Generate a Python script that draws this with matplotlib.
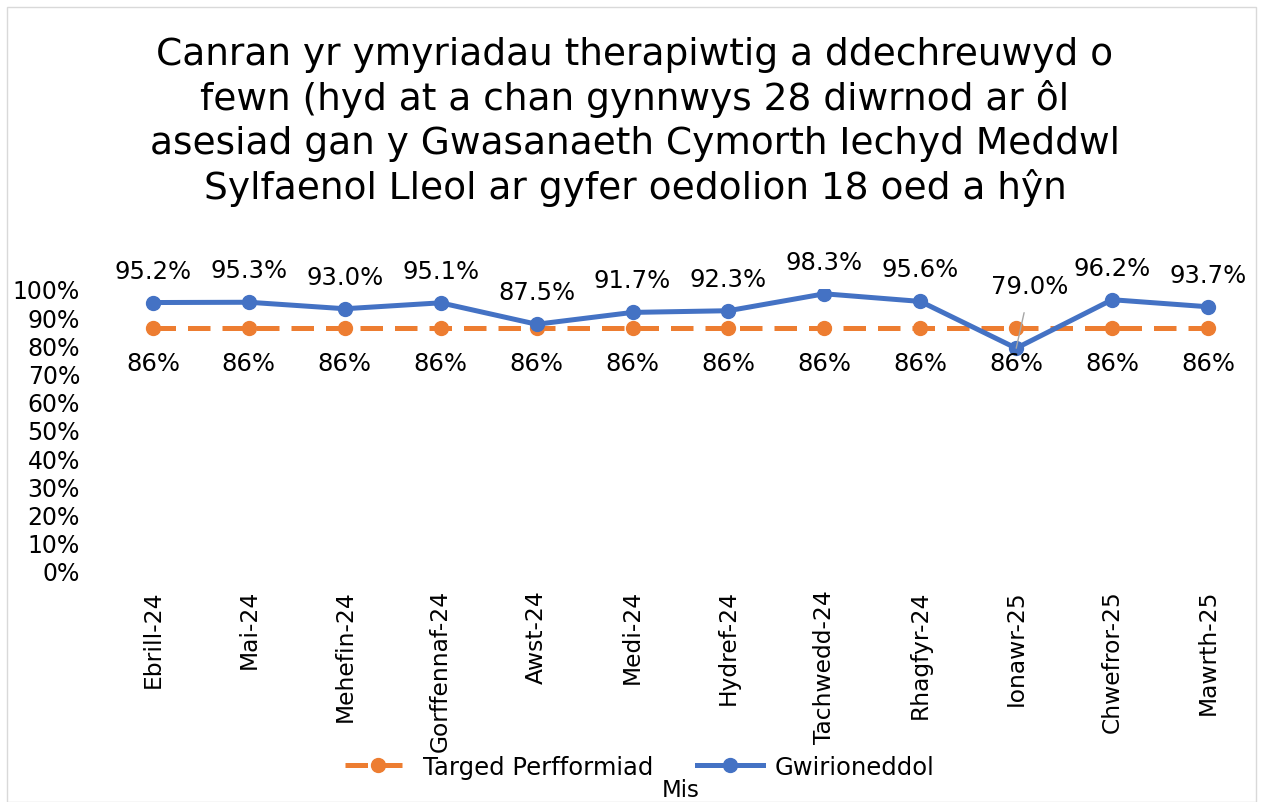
import matplotlib
matplotlib.use("Agg")
import matplotlib.pyplot as plt
from matplotlib.ticker import PercentFormatter

months = ["Ebrill-24", "Mai-24", "Mehefin-24", "Gorffennaf-24", "Awst-24", "Medi-24",
          "Hydref-24", "Tachwedd-24", "Rhagfyr-24", "Ionawr-25", "Chwefror-25", "Mawrth-25"]
actual = [95.2, 95.3, 93.0, 95.1, 87.5, 91.7, 92.3, 98.3, 95.6, 79.0, 96.2, 93.7]
target = [86] * 12

title = ("Canran yr ymyriadau therapiwtig a ddechreuwyd o\n"
         "fewn (hyd at a chan gynnwys 28 diwrnod ar ôl\n"
         "asesiad gan y Gwasanaeth Cymorth Iechyd Meddwl\n"
         "Sylfaenol Lleol ar gyfer oedolion 18 oed a hŷn")

plt.rcParams['font.family'] = ['DejaVu Sans']
fig = plt.figure(figsize=(12.63, 8.03), dpi=100)
ax = fig.add_axes([105/1263, 1 - 572/803, (1256-105)/1263, (572-290)/803])

x = list(range(len(months)))
orange = "#ED7D31"
blue = "#4472C4"
ax.plot(x, target, color=orange, lw=3.6, ls=(0, (4.5, 2.4)), marker="o", ms=10,
        label="Targed Perfformiad", zorder=2)
ax.plot(x, actual, color=blue, lw=3.6, marker="o", ms=10, label="Gwirioneddol", zorder=3)

for i, v in enumerate(target):
    ax.annotate(f"{v}%", (i, v), xytext=(0, -24.5), textcoords="offset points",
                ha="center", va="center", fontsize=17.5)
for i, v in enumerate(actual):
    if months[i] == "Ionawr-25":
        ax.annotate(f"{v:.1f}%", (i, v), xytext=(10, 45), textcoords="offset points",
                    ha="center", va="center", fontsize=17.5,
                    arrowprops=dict(arrowstyle="-", color="#A6A6A6", lw=1, shrinkA=9, shrinkB=0))
    else:
        ax.annotate(f"{v:.1f}%", (i, v), xytext=(0, 23), textcoords="offset points",
                    ha="center", va="center", fontsize=17.5)

ax.set_xlim(-0.5, len(months) - 0.5)
ax.set_ylim(0, 100)
ax.set_yticks(range(0, 101, 10))
ax.yaxis.set_major_formatter(PercentFormatter(decimals=0))
ax.set_xticks(x)
ax.set_xticklabels(months, rotation=90, fontsize=16.8)
ax.tick_params(axis="y", labelsize=17, length=0, pad=18)
ax.tick_params(axis="x", length=0, pad=13)
for s in ax.spines.values():
    s.set_visible(False)

fig.text(635/1263, 1 - 122/803, title, ha="center", va="center", fontsize=27,
         linespacing=1.26)
fig.text(681/1263, 1 - 791/803, "Mis", ha="center", va="center", fontsize=16.5)
leg = fig.legend(loc="center", bbox_to_anchor=(640/1263, 1 - 768/803), ncol=2, frameon=False,
                 fontsize=17.5, handlelength=2.7, columnspacing=1.8, handletextpad=0.5,
                 borderaxespad=0, borderpad=0)

border = plt.Rectangle((7/1263, 0), 1 - 14/1263, 1 - 8/803, transform=fig.transFigure,
                       fill=False, edgecolor="#D9D9D9", lw=1)
fig.patches.append(border)

fig.savefig("out.png", dpi=100)
